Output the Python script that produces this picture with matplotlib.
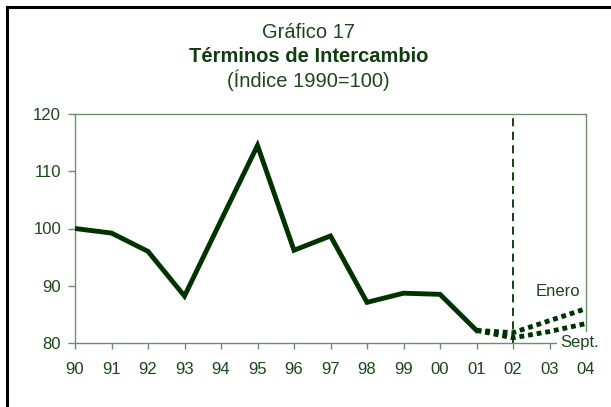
import matplotlib
matplotlib.use("Agg")
import matplotlib.pyplot as plt
from matplotlib.lines import Line2D

plt.rcParams['font.family'] = ['Liberation Sans', 'DejaVu Sans']

years = ["90", "91", "92", "93", "94", "95", "96", "97", "98", "99", "00", "01", "02", "03", "04"]
hist_values = [100.0, 99.2, 96.0, 88.2, 101.4, 114.5, 96.2, 98.7, 87.1, 88.7, 88.5, 82.2]
enero_years = ["01", "02", "03", "04"]
enero_values = [82.2, 81.8, 83.9, 86.0]
sept_years = ["01", "02", "03", "04"]
sept_values = [82.2, 80.9, 82.0, 83.4]
yticks = [80, 90, 100, 110, 120]

LINE = "#003300"
TEXT = "#1a461a"
SPINE = "#6b8f6b"

fig = plt.figure(figsize=(6.11, 4.07), dpi=100)
ax = fig.add_axes([75/611, 64/407, (586-75)/611, (343-114)/407])

idx = {y: i for i, y in enumerate(years)}
ax.plot([idx[y] for y in years[:len(hist_values)]], hist_values, color=LINE, lw=3.5,
        solid_joinstyle='miter', zorder=3)
ax.plot([idx[y] for y in enero_years], enero_values, color=LINE, lw=3.5,
        linestyle=(0, (1.0, 0.8)), dash_capstyle='butt', zorder=3)
ax.plot([idx[y] for y in sept_years], sept_values, color=LINE, lw=3.5,
        linestyle=(0, (1.0, 0.8)), dash_capstyle='butt', zorder=3)

ax.axvline(idx["02"], color=LINE, lw=1.3, linestyle=(0, (4.5, 3.0)), zorder=2)

ax.set_xlim(0, len(years) - 1)
ax.set_ylim(80, 120)
ax.set_xticks(range(len(years)))
ax.set_xticklabels(years)
ax.set_yticks(yticks)

for s in ax.spines.values():
    s.set_color(SPINE)
    s.set_linewidth(1.0)

ax.tick_params(axis='x', direction='out', length=4, width=1, color=SPINE,
               labelcolor=TEXT, labelsize=12, pad=9.5)
ax.tick_params(axis='y', direction='out', length=5, width=1, color=SPINE,
               labelcolor=TEXT, labelsize=12, pad=5)

ax.text(idx["04"] - 0.15, 89.0, "Enero", ha='right', va='center', color=TEXT, fontsize=12, zorder=5)
ax.text(idx["03"] + 0.3, 80.0, "Sept.", ha='left', va='center', color=TEXT, fontsize=12,
        zorder=6, clip_on=False,
        bbox=dict(facecolor='white', edgecolor='none', pad=2.5))

fig.text(0.505, 1 - 33/407, "Gráfico 17", ha='center', va='center', color=TEXT, fontsize=14.5)
fig.text(0.505, 1 - 57/407, "Términos de Intercambio", ha='center', va='center', color="#0f3d0f",
         fontsize=14.5, fontweight='bold')
fig.text(0.505, 1 - 80/407, "(Índice 1990=100)", ha='center', va='center', color=TEXT, fontsize=14.5)

# outer frame (left and top only visible)
fig.add_artist(Line2D([7/611, 7/611], [0, 1 - 7/407], transform=fig.transFigure, color='black', lw=2.2))
fig.add_artist(Line2D([7/611, 1], [1 - 7/407, 1 - 7/407], transform=fig.transFigure, color='black', lw=2.2))

fig.savefig("out.png", dpi=100)
